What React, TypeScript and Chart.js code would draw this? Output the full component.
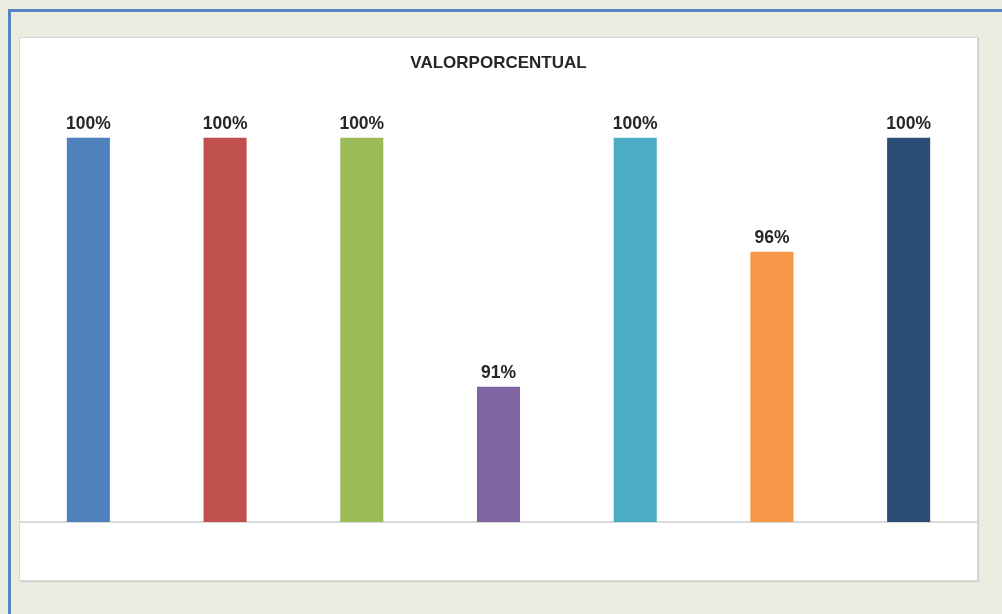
import React, { useEffect, useRef } from "react";
import { Chart, registerables } from "chart.js";

Chart.register(...registerables);

const categories = ["A", "B", "C", "D", "E", "F", "G"];
const values = [100, 100, 100, 91.25, 100, 96.0, 100];
const barColors = ["#4F81BD", "#C0504D", "#9BBB59", "#8064A2", "#4BACC6", "#F79646", "#2C4D75"];
const titleText = "VALORPORCENTUAL";
const yMin = 86.5;
const yMax = 101.75;

const labelPlugin = {
  id: "barLabels",
  afterDatasetsDraw(chart: any) {
    const ctx = chart.ctx;
    const meta = chart.getDatasetMeta(0);
    ctx.save();
    ctx.font = "bold 17.5px 'Liberation Sans', Arial, sans-serif";
    ctx.fillStyle = "#262626";
    ctx.textAlign = "center";
    ctx.textBaseline = "alphabetic";
    meta.data.forEach((bar: any, i: number) => {
      const v = chart.data.datasets[0].data[i] as number;
      ctx.fillText(Math.round(v) + "%", bar.x, bar.y - 9);
    });
    ctx.restore();
  },
};

export default function App() {
  const ref = useRef<HTMLCanvasElement | null>(null);
  useEffect(() => {
    if (!ref.current) return;
    const chart = new Chart(ref.current, {
      type: "bar",
      data: {
        labels: categories,
        datasets: [
          {
            data: values,
            backgroundColor: barColors,
            borderWidth: 0,
            barPercentage: 0.315,
            categoryPercentage: 1,
          },
        ],
      },
      options: {
        responsive: false,
        animation: false,
        layout: { padding: { left: 0, right: 0, top: 0, bottom: 58 } },
        plugins: {
          legend: { display: false },
          tooltip: { enabled: false },
          title: {
            display: true,
            text: titleText,
            color: "#262626",
            font: { family: "'Liberation Sans', Arial, sans-serif", size: 17, weight: "bold" },
            padding: { top: 15, bottom: 14.6 },
          },
        },
        scales: {
          x: {
            display: true,
            grid: { display: false, drawTicks: false },
            ticks: { display: false },
            border: { display: true, color: "#D9D9D9", width: 2 },
          },
          y: {
            display: false,
            min: yMin,
            max: yMax,
          },
        },
      },
      plugins: [labelPlugin],
    });
    return () => chart.destroy();
  }, []);

  return (
    <div style={{ position: "fixed", left: 0, top: 0, width: 1002, height: 614, background: "#EBEDE0", overflow: "hidden" }}>
      <div
        style={{
          position: "absolute",
          left: 8,
          top: 9,
          width: 1002,
          height: 614,
          borderTop: "3px solid #5585C5",
          borderLeft: "3px solid #5585C5",
        }}
      />
      <div
        style={{
          position: "absolute",
          left: 19,
          top: 37,
          width: 957,
          height: 542,
          background: "#FFFFFF",
          border: "1px solid #D9D9D9",
          boxShadow: "1px 1px 1px #D0D0D0",
        }}
      >
        <canvas ref={ref} width={957} height={542} style={{ display: "block" }} />
      </div>
    </div>
  );
}
